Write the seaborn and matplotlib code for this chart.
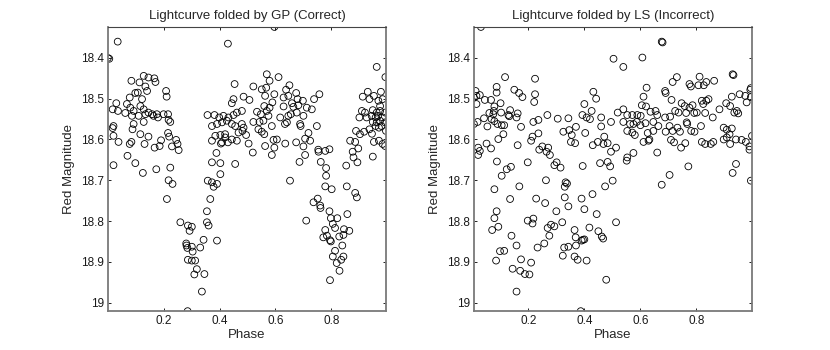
import numpy as np
import matplotlib
matplotlib.use("Agg")
import matplotlib.pyplot as plt
import seaborn as sns
from matplotlib.ticker import FormatStrFormatter, FuncFormatter

# ---------- data (phase, red magnitude) ----------
gp_phase = [
    0.036, 0.001, 0.006, 0.430, 0.454, 0.486, 0.085, 0.129, 0.146, 0.167, 0.171, 0.114, 0.135, 0.141,
    0.209, 0.211, 0.099, 0.108, 0.079, 0.123, 0.031, 0.018, 0.037, 0.063, 0.069, 0.081, 0.093, 0.087,
    0.117, 0.129, 0.111, 0.135, 0.146, 0.159, 0.164, 0.176, 0.180, 0.129, 0.200, 0.216, 0.218, 0.224,
    0.093, 0.089, 0.021, 0.018, 0.021, 0.039, 0.085, 0.079, 0.117, 0.146, 0.132, 0.168, 0.186, 0.191,
    0.216, 0.220, 0.245, 0.250, 0.230, 0.254, 0.071, 0.099, 0.021,
    0.357, 0.382, 0.399, 0.414, 0.432, 0.450, 0.462, 0.480, 0.444, 0.450, 0.373, 0.391, 0.409, 0.426,
    0.444, 0.456, 0.480, 0.486, 0.385, 0.403, 0.420, 0.420, 0.409, 0.405, 0.430, 0.444, 0.462, 0.468,
    0.482, 0.373, 0.389, 0.373, 0.403, 0.456,
    0.596, 0.962, 0.993, 0.569, 0.611, 0.579, 0.650, 0.521, 0.551, 0.567, 0.638, 0.596, 0.757, 0.507,
    0.563, 0.629, 0.646, 0.674, 0.679, 0.698, 0.738, 0.589, 0.560, 0.579, 0.659, 0.682, 0.712, 0.730,
    0.629, 0.664, 0.534, 0.548, 0.569, 0.575, 0.617, 0.646, 0.655, 0.676, 0.700, 0.641, 0.634, 0.688,
    0.690, 0.748, 0.521, 0.543, 0.557, 0.587, 0.539, 0.551, 0.560, 0.495, 0.718, 0.706, 0.724, 0.593,
    0.605, 0.635, 0.674, 0.504, 0.563, 0.596, 0.700, 0.519, 0.587, 0.706, 0.754, 0.753, 0.778, 0.793,
    0.686, 0.762,
    0.912, 0.930, 0.936, 0.952, 0.968, 0.977, 0.983, 0.974, 0.909, 0.920, 0.948, 0.962, 0.974, 0.992,
    0.900, 0.926, 0.944, 0.958, 0.967, 0.983, 0.948, 0.962, 0.974, 0.992, 0.958, 0.970, 0.979, 0.995,
    0.936, 0.888, 0.917, 0.902, 0.945, 0.867, 0.885, 0.952, 0.970, 0.983, 0.992, 0.876, 0.896, 0.879,
    0.948, 0.893, 0.853,
    0.126, 0.174, 0.224, 0.218, 0.232, 0.212, 0.260, 0.287, 0.301, 0.293, 0.281, 0.282, 0.285, 0.301,
    0.304, 0.331, 0.343, 0.287, 0.301, 0.313, 0.319, 0.310, 0.346, 0.337, 0.286, 0.391, 0.355, 0.355,
    0.361, 0.367, 0.358, 0.373, 0.379, 0.391, 0.403,
    0.781, 0.652, 0.781, 0.778, 0.801, 0.855, 0.885, 0.891, 0.751, 0.736, 0.760, 0.761, 0.793, 0.857,
    0.710, 0.798, 0.821, 0.805, 0.813, 0.778, 0.784, 0.771, 0.795, 0.798, 0.828, 0.843, 0.845, 0.864,
    0.839, 0.813, 0.805, 0.843, 0.835, 0.819, 0.829, 0.795,
]
gp_mag = [
    18.360, 18.400, 18.402, 18.365, 18.464, 18.495, 18.456, 18.444, 18.448, 18.450, 18.459, 18.460, 18.470, 18.481,
    18.481, 18.495, 18.486, 18.485, 18.497, 18.501, 18.511, 18.526, 18.530, 18.535, 18.513, 18.522, 18.530, 18.542,
    18.518, 18.526, 18.542, 18.538, 18.534, 18.538, 18.542, 18.538, 18.546, 18.557, 18.538, 18.538, 18.552, 18.557,
    18.562, 18.575, 18.567, 18.572, 18.591, 18.606, 18.606, 18.611, 18.587, 18.593, 18.611, 18.620, 18.616, 18.602,
    18.584, 18.593, 18.601, 18.611, 18.617, 18.626, 18.640, 18.658, 18.663,
    18.540, 18.540, 18.546, 18.542, 18.546, 18.540, 18.534, 18.530, 18.511, 18.501, 18.567, 18.562, 18.558, 18.554,
    18.562, 18.567, 18.562, 18.571, 18.591, 18.589, 18.587, 18.595, 18.607, 18.610, 18.607, 18.600, 18.603, 18.583,
    18.579, 18.603, 18.633, 18.656, 18.658, 18.660,
    18.324, 18.422, 18.447, 18.440, 18.447, 18.456, 18.467, 18.470, 18.477, 18.473, 18.478, 18.489, 18.489, 18.503,
    18.493, 18.497, 18.493, 18.486, 18.501, 18.505, 18.501, 18.509, 18.518, 18.522, 18.511, 18.516, 18.522, 18.526,
    18.519, 18.520, 18.532, 18.538, 18.530, 18.542, 18.546, 18.542, 18.538, 18.534, 18.542, 18.558, 18.562, 18.562,
    18.567, 18.567, 18.557, 18.557, 18.554, 18.567, 18.575, 18.581, 18.587, 18.589, 18.584, 18.598, 18.603, 18.601,
    18.600, 18.610, 18.607, 18.610, 18.616, 18.620, 18.617, 18.632, 18.638, 18.638, 18.630, 18.625, 18.628, 18.624,
    18.655, 18.655,
    18.495, 18.483, 18.501, 18.493, 18.505, 18.483, 18.501, 18.518, 18.530, 18.534, 18.528, 18.534, 18.530, 18.534,
    18.546, 18.546, 18.542, 18.546, 18.542, 18.546, 18.557, 18.558, 18.554, 18.558, 18.567, 18.571, 18.567, 18.579,
    18.575, 18.579, 18.581, 18.587, 18.586, 18.603, 18.606, 18.606, 18.603, 18.611, 18.616, 18.630, 18.622, 18.644,
    18.642, 18.656, 18.664,
    18.682, 18.673, 18.669, 18.700, 18.709, 18.746, 18.803, 18.811, 18.814, 18.824, 18.855, 18.860, 18.866, 18.863,
    18.875, 18.865, 18.846, 18.895, 18.897, 18.897, 18.918, 18.931, 18.930, 18.973, 19.021, 18.848, 18.776, 18.803,
    18.811, 18.746, 18.701, 18.705, 18.716, 18.709, 18.685,
    18.670, 18.701, 18.689, 18.715, 18.722, 18.715, 18.731, 18.742, 18.745, 18.754, 18.762, 18.768, 18.776, 18.783,
    18.799, 18.793, 18.793, 18.807, 18.817, 18.822, 18.836, 18.840, 18.847, 18.850, 18.838, 18.834, 18.820, 18.824,
    18.860, 18.873, 18.887, 18.887, 18.895, 18.903, 18.922, 18.945,
]

ls_phase = [
    0.031, 0.504, 0.117, 0.224, 0.087, 0.150, 0.167, 0.179, 0.224, 0.432, 0.442, 0.012, 0.015, 0.027,
    0.006, 0.015, 0.045, 0.067, 0.087, 0.079, 0.101, 0.221, 0.400, 0.519, 0.426, 0.393, 0.408, 0.420,
    0.135, 0.162, 0.129, 0.132, 0.158, 0.103, 0.061, 0.075, 0.077, 0.042, 0.069, 0.079, 0.268, 0.305,
    0.343, 0.370, 0.460, 0.460, 0.495, 0.006, 0.019, 0.054, 0.090, 0.105, 0.114, 0.174, 0.218, 0.236,
    0.325, 0.346, 0.355, 0.403, 0.471, 0.111, 0.093, 0.236, 0.215, 0.210, 0.352, 0.367, 0.448, 0.430,
    0.468, 0.483, 0.051, 0.067, 0.021, 0.027, 0.021, 0.162, 0.250, 0.271, 0.239, 0.265, 0.277, 0.495,
    0.088, 0.198, 0.301, 0.394, 0.456, 0.483, 0.138, 0.293,
    0.676, 0.679, 0.607, 0.539, 0.929, 0.932, 0.730, 0.715, 0.775, 0.780, 0.811, 0.807, 0.835, 0.826,
    0.863, 0.622, 0.611, 0.688, 0.690, 0.992, 0.994, 0.926, 0.954, 0.974, 0.994, 0.979, 0.711, 0.747,
    0.758, 0.775, 0.786, 0.819, 0.835, 0.843, 0.824, 0.906, 0.920, 0.944, 0.935, 0.949, 0.882, 0.605,
    0.620, 0.539, 0.553, 0.571, 0.589, 0.601, 0.636, 0.654, 0.660, 0.724, 0.736, 0.763, 0.792, 0.801,
    0.831, 0.858, 0.688, 0.706, 0.539, 0.563, 0.575, 0.587, 0.600, 0.618, 0.646, 0.664, 0.704, 0.732,
    0.765, 0.767, 0.816, 0.897, 0.908, 0.926, 0.998, 0.553, 0.571, 0.580, 0.626, 0.646, 0.690, 0.715,
    0.741, 0.781, 0.793, 0.918, 0.908, 0.513, 0.611, 0.629, 0.632, 0.709, 0.720, 0.760, 0.745, 0.819,
    0.831, 0.860, 0.851, 0.897, 0.941, 0.961, 0.976, 0.989, 0.989, 0.920, 0.553, 0.575, 0.660,
    0.123, 0.105, 0.315, 0.492, 0.168, 0.079, 0.263, 0.333, 0.338, 0.330, 0.474, 0.501, 0.429, 0.135,
    0.228, 0.260, 0.330, 0.343, 0.390, 0.400, 0.087, 0.444, 0.300, 0.079, 0.198, 0.215, 0.218, 0.513,
    0.321, 0.093, 0.071, 0.269, 0.281, 0.293, 0.365, 0.418, 0.450, 0.462, 0.467, 0.140, 0.275, 0.257,
    0.369, 0.390, 0.395, 0.400, 0.158, 0.233, 0.328, 0.343, 0.370, 0.099, 0.114, 0.323, 0.365, 0.376,
    0.408, 0.085, 0.174, 0.210, 0.144, 0.171, 0.188, 0.204, 0.478, 0.158, 0.387,
    0.551, 0.676, 0.704, 0.771, 0.929, 0.941, 0.994,
]
ls_mag = [
    18.324, 18.402, 18.447, 18.451, 18.471, 18.478, 18.486, 18.496, 18.489, 18.483, 18.500, 18.481, 18.493, 18.491,
    18.497, 18.513, 18.503, 18.503, 18.485, 18.519, 18.511, 18.508, 18.513, 18.534, 18.530, 18.540, 18.546, 18.550,
    18.528, 18.536, 18.540, 18.543, 18.546, 18.534, 18.535, 18.538, 18.530, 18.548, 18.550, 18.555, 18.540, 18.549,
    18.548, 18.569, 18.546, 18.568, 18.557, 18.562, 18.557, 18.568, 18.562, 18.565, 18.565, 18.569, 18.557, 18.552,
    18.581, 18.577, 18.589, 18.584, 18.593, 18.587, 18.599, 18.585, 18.593, 18.603, 18.606, 18.609, 18.606, 18.614,
    18.611, 18.609, 18.610, 18.622, 18.620, 18.628, 18.638, 18.614, 18.617, 18.620, 18.625, 18.630, 18.638, 18.630,
    18.654, 18.656, 18.656, 18.665, 18.658, 18.655, 18.667, 18.663,
    18.360, 18.362, 18.399, 18.422, 18.440, 18.442, 18.447, 18.459, 18.464, 18.470, 18.446, 18.467, 18.459, 18.467,
    18.456, 18.473, 18.495, 18.481, 18.486, 18.478, 18.474, 18.495, 18.489, 18.493, 18.496, 18.509, 18.503, 18.511,
    18.518, 18.522, 18.516, 18.505, 18.505, 18.501, 18.513, 18.511, 18.518, 18.530, 18.534, 18.536, 18.526, 18.516,
    18.519, 18.526, 18.540, 18.540, 18.540, 18.542, 18.532, 18.530, 18.540, 18.530, 18.534, 18.535, 18.535, 18.534,
    18.535, 18.546, 18.546, 18.544, 18.557, 18.562, 18.562, 18.557, 18.565, 18.560, 18.557, 18.567, 18.567, 18.571,
    18.558, 18.562, 18.567, 18.571, 18.576, 18.573, 18.591, 18.579, 18.583, 18.589, 18.584, 18.579, 18.581, 18.579,
    18.581, 18.579, 18.581, 18.587, 18.595, 18.620, 18.606, 18.603, 18.600, 18.601, 18.607, 18.609, 18.620, 18.606,
    18.611, 18.606, 18.611, 18.600, 18.600, 18.601, 18.606, 18.617, 18.625, 18.611, 18.644, 18.633, 18.632,
    18.673, 18.689, 18.669, 18.666, 18.715, 18.722, 18.700, 18.705, 18.708, 18.716, 18.715, 18.701, 18.734, 18.746,
    18.745, 18.756, 18.742, 18.764, 18.745, 18.771, 18.776, 18.783, 18.776, 18.793, 18.799, 18.806, 18.794, 18.803,
    18.803, 18.814, 18.822, 18.817, 18.809, 18.813, 18.822, 18.816, 18.825, 18.838, 18.843, 18.836, 18.836, 18.855,
    18.840, 18.848, 18.846, 18.845, 18.860, 18.865, 18.865, 18.863, 18.860, 18.874, 18.873, 18.885, 18.887, 18.895,
    18.897, 18.897, 18.894, 18.902, 18.917, 18.922, 18.930, 18.931, 18.944, 18.973, 19.021,
    18.652, 18.711, 18.687, 18.666, 18.682, 18.660, 18.701,
]

titles = ["Lightcurve folded by GP (Correct)", "Lightcurve folded by LS (Incorrect)"]
xticks = [0.2, 0.4, 0.6, 0.8]
yticks = [18.4, 18.5, 18.6, 18.7, 18.8, 18.9, 19.0]

sns.set_style("white")
plt.rcParams["font.family"] = ["Liberation Sans", "DejaVu Sans"]

fig = plt.figure(figsize=(8.3, 3.5), dpi=100)
ax1 = fig.add_axes([0.130, 0.111, 0.335, 0.812])
ax2 = fig.add_axes([0.571, 0.111, 0.335, 0.812])

for ax, ph, mg, title in [(ax1, gp_phase, gp_mag, titles[0]),
                          (ax2, ls_phase, ls_mag, titles[1])]:
    sns.scatterplot(x=ph, y=mg, ax=ax, marker="o", s=24,
                    facecolors="none", edgecolors="black", linewidths=0.6)
    # axis tight, magnitudes inverted
    ax.set_xlim(min(ph), max(ph))
    ax.set_ylim(max(mg), min(mg))
    ax.set_xticks(xticks)
    ax.set_yticks(yticks)
    ax.xaxis.set_major_formatter(FormatStrFormatter("%g"))
    ax.yaxis.set_major_formatter(FuncFormatter(lambda v, p: f"{v:g}"))
    ax.tick_params(direction="in", length=2.5, width=0.7, color="#222222",
                   bottom=True, left=True, top=True, right=True,
                   labelsize=8.5, labelcolor="#1a1a1a", pad=3)
    for name, sp in ax.spines.items():
        sp.set_visible(True)
        if name == "top":
            sp.set_color("#444444")
            sp.set_linewidth(0.8)
        else:
            sp.set_color("#7a7a7a")
            sp.set_linewidth(1.3)
    ax.set_xlabel("Phase", fontsize=9.5, labelpad=1)
    ax.set_ylabel("Red Magnitude", fontsize=9.5, labelpad=4)
    ax.set_title(title, fontsize=9.5, pad=6)

fig.savefig("out.png", dpi=100)
